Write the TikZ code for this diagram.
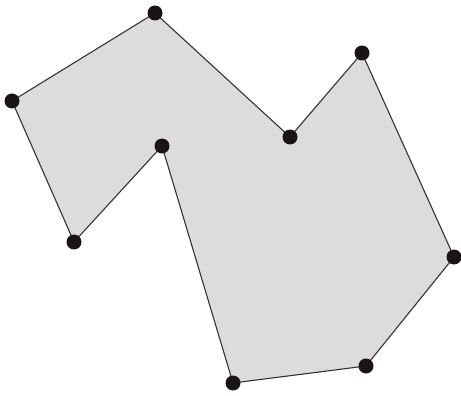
\documentclass[tikz,border=0pt]{standalone}
\definecolor{polyfill}{HTML}{DCDCDC}
\definecolor{dotcol}{HTML}{1A1414}
\begin{document}
\begin{tikzpicture}[x=1pt,y=-1pt,
  vertex/.style={circle,fill=dotcol,inner sep=0pt,minimum size=15pt},
  edge/.style={draw=black!80,line width=1.1pt}]
\useasboundingbox (0,0) rectangle (461,396);
\coordinate (A) at (155,13);
\coordinate (B) at (290,137);
\coordinate (C) at (362,53);
\coordinate (D) at (454,257);
\coordinate (E) at (366,366);
\coordinate (F) at (233,383);
\coordinate (G) at (162,146);
\coordinate (H) at (74,242);
\coordinate (I) at (12,101);
\fill[polyfill] (A) -- (B) -- (C) -- (D) -- (E) -- (F) -- (G) -- (H) -- (I) -- cycle;
\draw[edge] (A) -- (B) -- (C) -- (D) -- (E) -- (F) -- (G) -- (H) -- (I) -- cycle;
\foreach \p in {A,B,C,D,E,F,G,H,I} \node[vertex] (v\p) at (\p) {};
\end{tikzpicture}
\end{document}
